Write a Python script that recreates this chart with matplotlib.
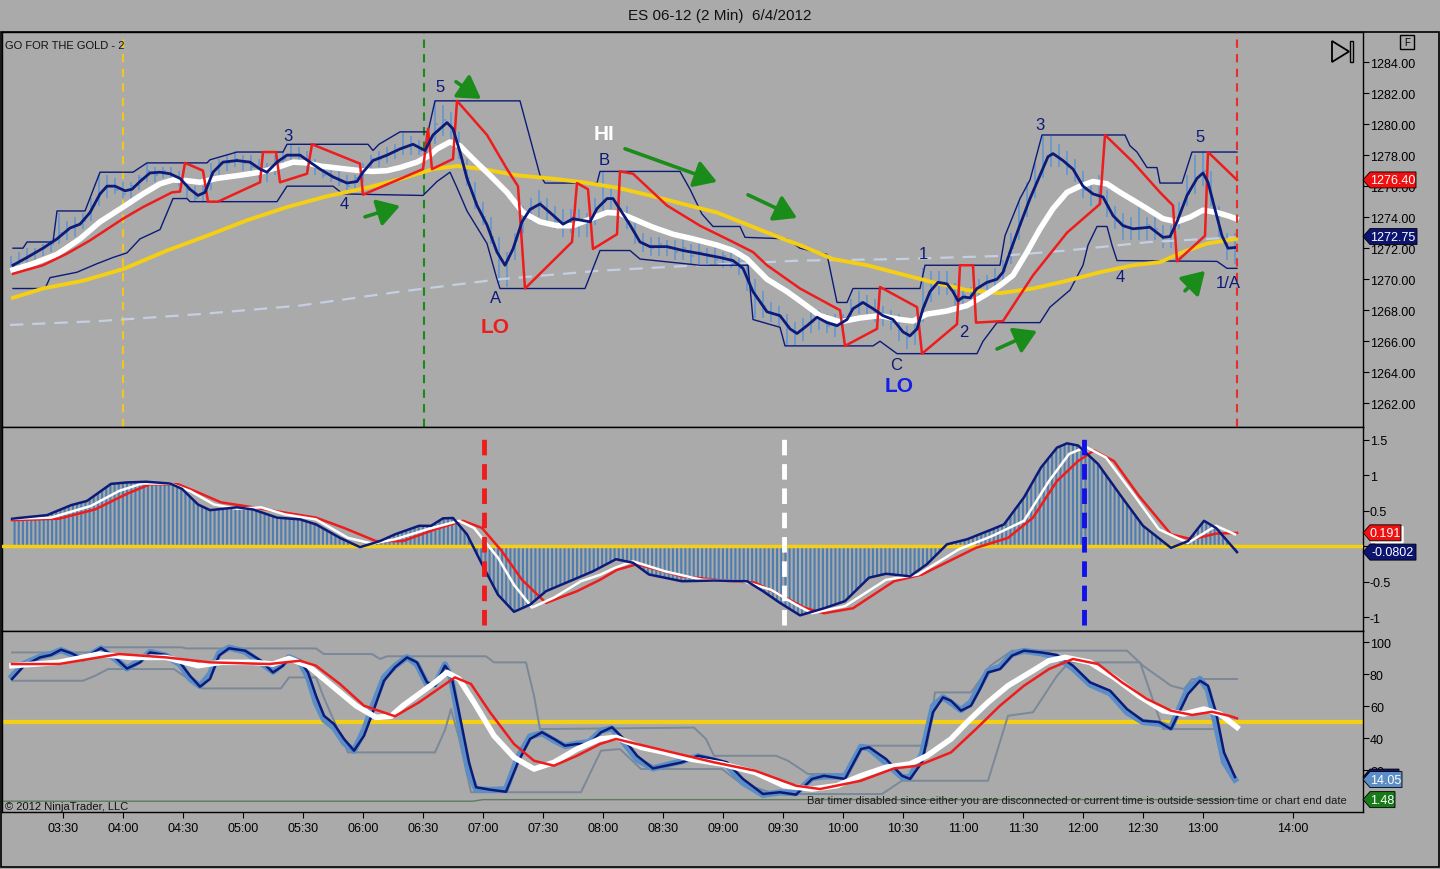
import numpy as np
import matplotlib.pyplot as plt
from matplotlib.patches import Polygon, Rectangle

plt.rcParams['font.family'] = ['Liberation Sans', 'DejaVu Sans']
plt.rcParams['hatch.linewidth'] = 1.5

W, H = 1440, 870
BG = '#aaaaaa'
NAVY = '#0c1a78'
RED = '#ee1c1c'
YEL = '#f5cf14'
BARC = '#6496d0'
LBLUE = '#5b8ec6'
GRAY = '#7a8898'
GREEN = '#1a8c1a'

# ---------------- data (time = minutes after 03:00) ----------------
tick_pos = [30, 60, 90, 120, 150, 180, 210, 240, 270, 300, 330, 360, 390, 420,
            450, 480, 510, 540, 570, 600, 645]
tick_lab = ['03:30', '04:00', '04:30', '05:00', '05:30', '06:00', '06:30', '07:00',
            '07:30', '08:00', '08:30', '09:00', '09:30', '10:00', '10:30', '11:00',
            '11:30', '12:00', '12:30', '13:00', '14:00']

# price bars, one every 4 minutes starting 03:04
bar_hi = [1271.5, 1271.75, 1272.0, 1272.0, 1272.25, 1272.5, 1274.25, 1273.75, 1274.0, 1274.25,
          1275.25, 1276.75, 1276.75, 1276.5, 1276.25, 1276.25, 1276.75, 1277.5, 1277.25, 1277.25,
          1277.25, 1277.0, 1276.5, 1276.0, 1276.0, 1277.5, 1277.75, 1278.0, 1278.25, 1278.0,
          1278.0, 1277.75, 1277.5, 1278.0, 1278.25, 1278.75, 1278.5, 1278.25, 1277.75, 1277.5,
          1277.25, 1277.0, 1276.75, 1276.75, 1277.5, 1278.0, 1278.25, 1278.5, 1278.75, 1279.5,
          1279.25, 1279.0, 1279.0, 1281.5, 1281.25, 1280.75, 1279.5, 1277.75, 1276.25, 1275.0,
          1274.0, 1272.75, 1271.75, 1273.0, 1274.75, 1275.25, 1275.75, 1275.25, 1274.75, 1274.5,
          1274.5, 1274.5, 1274.25, 1275.25, 1277.0, 1276.0, 1275.5, 1274.75, 1273.75, 1273.0,
          1272.75, 1272.75, 1272.5, 1272.5, 1272.5, 1272.25, 1272.25, 1272.0, 1272.0, 1271.75,
          1271.75, 1271.5, 1271.0, 1270.0, 1269.25, 1268.5, 1268.25, 1267.75, 1267.25, 1267.5,
          1268.0, 1268.0, 1267.75, 1267.75, 1267.75, 1268.75, 1269.25, 1269.0, 1268.75, 1268.25,
          1268.0, 1267.75, 1267.0, 1267.25, 1270.75, 1270.5, 1270.5, 1270.5, 1269.75, 1269.5,
          1269.5, 1270.0, 1270.25, 1270.75, 1271.25, 1273.0, 1275.0, 1276.25, 1277.5, 1279.25,
          1279.25, 1278.75, 1278.25, 1277.75, 1277.0, 1276.25, 1276.75, 1275.75, 1274.75, 1274.25,
          1274.0, 1275.0, 1274.0, 1274.0, 1273.5, 1273.5, 1275.0, 1276.75, 1278.0, 1278.25,
          1277.0, 1274.75, 1273.0, 1273.0]
bar_lo = [1270.5, 1270.75, 1271.0, 1271.25, 1271.5, 1271.75, 1272.25, 1272.5, 1272.75, 1273.25,
          1273.75, 1274.75, 1275.25, 1275.5, 1275.25, 1275.25, 1275.75, 1276.25, 1276.25, 1276.5,
          1276.25, 1276.0, 1275.25, 1275.0, 1275.0, 1275.75, 1276.75, 1277.0, 1277.25, 1277.0,
          1277.0, 1276.5, 1276.25, 1276.75, 1277.25, 1277.5, 1277.5, 1277.0, 1276.75, 1276.5,
          1276.25, 1276.0, 1275.5, 1275.75, 1276.25, 1277.0, 1277.25, 1277.5, 1277.75, 1278.0,
          1278.0, 1278.0, 1277.75, 1278.75, 1279.25, 1279.0, 1277.75, 1276.0, 1274.5, 1273.5,
          1272.25, 1269.75, 1269.5, 1271.25, 1273.0, 1273.75, 1274.0, 1273.75, 1273.25, 1272.75,
          1273.0, 1272.75, 1272.75, 1273.5, 1274.25, 1274.5, 1274.0, 1273.25, 1272.25, 1271.75,
          1271.5, 1271.5, 1271.5, 1271.25, 1271.25, 1271.0, 1271.0, 1271.0, 1271.0, 1270.75,
          1270.75, 1270.25, 1269.25, 1267.5, 1267.5, 1267.25, 1267.0, 1265.75, 1265.75, 1266.0,
          1266.5, 1266.75, 1266.5, 1266.25, 1266.5, 1267.25, 1267.75, 1267.75, 1267.25, 1267.0,
          1266.75, 1266.0, 1265.5, 1265.75, 1267.25, 1268.5, 1269.0, 1269.0, 1268.25, 1268.0,
          1268.25, 1268.75, 1269.25, 1269.25, 1269.75, 1271.0, 1272.5, 1274.0, 1275.25, 1276.5,
          1277.25, 1277.25, 1276.75, 1276.25, 1275.25, 1274.75, 1274.75, 1274.0, 1273.25, 1272.5,
          1272.5, 1272.5, 1272.5, 1272.5, 1272.0, 1272.0, 1273.25, 1274.75, 1275.5, 1276.0,
          1274.75, 1272.75, 1271.25, 1271.0]
bar_cl = [1271.0, 1271.25, 1271.5, 1271.75, 1272.0, 1272.25, 1273.0, 1273.25, 1273.5, 1273.75,
          1274.75, 1275.5, 1276.0, 1275.75, 1275.5, 1276.0, 1276.5, 1277.0, 1276.75, 1277.0,
          1276.75, 1276.25, 1275.75, 1275.25, 1275.75, 1276.75, 1277.5, 1277.5, 1277.75, 1277.5,
          1277.25, 1277.0, 1277.0, 1277.5, 1277.75, 1278.0, 1278.0, 1277.5, 1277.25, 1276.75,
          1276.5, 1276.25, 1276.0, 1276.5, 1277.0, 1277.75, 1277.75, 1278.0, 1278.25, 1278.5,
          1278.75, 1278.25, 1278.75, 1280.0, 1280.25, 1279.5, 1278.25, 1276.5, 1275.0, 1274.0,
          1272.75, 1271.25, 1271.25, 1272.5, 1274.0, 1274.5, 1275.0, 1274.25, 1273.75, 1273.5,
          1274.0, 1273.5, 1273.75, 1274.5, 1275.0, 1275.25, 1274.5, 1273.75, 1272.75, 1272.25,
          1272.0, 1272.25, 1272.0, 1271.75, 1272.0, 1271.5, 1271.75, 1271.5, 1271.25, 1271.5,
          1271.0, 1270.75, 1270.0, 1268.75, 1268.25, 1267.75, 1267.5, 1267.0, 1266.5, 1267.0,
          1267.25, 1267.5, 1267.0, 1267.0, 1267.5, 1268.0, 1268.5, 1268.25, 1267.75, 1267.5,
          1267.25, 1266.75, 1266.25, 1266.75, 1268.25, 1269.5, 1269.75, 1269.5, 1268.75, 1269.0,
          1268.75, 1269.5, 1269.75, 1270.0, 1270.5, 1272.0, 1273.5, 1275.0, 1276.25, 1277.5,
          1278.0, 1277.75, 1277.25, 1276.75, 1275.75, 1275.5, 1275.5, 1274.75, 1273.75, 1273.5,
          1273.25, 1273.25, 1273.5, 1273.25, 1272.75, 1273.0, 1274.25, 1275.5, 1276.5, 1277.0,
          1275.25, 1273.25, 1272.0, 1272.75]
bar_t = list(range(4, 4 + 4 * len(bar_hi), 4))

# price channel (upper / lower)
chu_t = [5, 10, 12, 25, 27, 41, 48.5, 65, 72, 102, 103.5, 117, 140, 142, 182.5, 185, 188,
         198.5, 212.5, 216, 258.5, 268.5, 271, 297, 298.5, 338.5, 343.5, 349.5, 355, 368.5,
         371, 392, 398.5, 405, 412, 417, 422, 425, 458.5, 461, 498.5, 501, 508.5, 513.5,
         519.5, 561, 563.5, 567, 572, 577, 578.5, 589.5, 594.5, 617]
chu_v = [1272.0, 1272.0, 1272.4, 1272.4, 1274.4, 1274.4, 1276.9, 1276.9, 1277.5, 1277.5,
         1277.7, 1278.2, 1278.2, 1278.7, 1278.7, 1278.3, 1278.7, 1279.5, 1279.5, 1281.5,
         1281.5, 1276.7, 1276.2, 1276.2, 1276.95, 1276.95, 1275.8, 1274.2, 1273.4, 1273.4,
         1272.7, 1272.6, 1272.0, 1271.8, 1271.6, 1268.5, 1268.5, 1269.4, 1269.4, 1270.9,
         1270.9, 1272.8, 1275.2, 1276.4, 1279.3, 1279.3, 1278.6, 1278.2, 1277.2, 1277.2,
         1276.2, 1276.2, 1278.2, 1278.2]
chl_t = [5, 21, 23.5, 37, 47, 55, 62, 68.5, 78.5, 85, 92, 93.5, 137, 142, 165, 170, 210,
         217, 223.5, 227, 232, 242, 247, 248.5, 291, 298.5, 313.5, 318.5, 348.5, 372.5, 375,
         388.5, 391, 435, 438.5, 447, 487, 490, 497, 518.5, 523.5, 533.5, 540, 542.5, 547,
         552, 554.5, 557, 607, 612, 617]
chl_v = [1269.4, 1269.4, 1270.1, 1270.45, 1271.0, 1271.4, 1271.7, 1272.6, 1273.2, 1275.2,
         1275.2, 1275.0, 1275.0, 1276.0, 1276.0, 1275.5, 1275.4, 1276.3, 1276.9, 1275.9,
         1274.4, 1272.3, 1270.0, 1269.4, 1269.4, 1271.85, 1271.85, 1271.3, 1270.9, 1270.9,
         1267.4, 1266.9, 1265.7, 1265.7, 1266.0, 1265.2, 1265.2, 1266.0, 1267.2, 1267.2,
         1268.2, 1269.3, 1270.9, 1272.2, 1273.4, 1273.4, 1272.2, 1271.2, 1271.15, 1270.7,
         1270.7]

# fast navy average
fast_t = [5, 12, 20, 27, 33.5, 38.5, 43.5, 48.5, 52, 56, 61, 64.5, 68.5, 73.5, 78.5, 83.5,
          88.5, 93.5, 97.5, 101, 105, 110, 117, 123.5, 128.5, 132, 137, 142, 148.5, 153.5,
          158.5, 165, 172, 177, 180, 185, 192, 198.5, 205, 211, 215, 222, 225, 228.5, 232,
          237, 242, 247, 251, 255, 259.5, 263.5, 268.5, 273.5, 280, 285, 293.5, 297, 302,
          305, 308.5, 313.5, 318.5, 323.5, 332, 340, 348.5, 358.5, 365, 370, 375, 382, 388.5,
          393.5, 397, 402, 407, 412, 417, 422, 425, 430, 435, 440, 445, 450, 453.5, 457, 460,
          463.5, 467.5, 472, 475, 477.5, 480, 483.5, 487, 492, 497, 500, 503.5, 508.5, 513.5,
          518.5, 522.5, 525, 530, 535, 540, 545, 550, 555, 560, 565, 573.5, 580, 583.5, 587,
          592, 597, 600, 602.5, 606, 609.5, 612.5, 616.5]
fast_v = [1270.9, 1271.4, 1272.0, 1272.6, 1273.3, 1273.55, 1274.3, 1275.5, 1276.0, 1276.0,
          1275.7, 1275.8, 1276.3, 1276.85, 1276.9, 1276.8, 1276.5, 1275.8, 1275.4, 1275.6,
          1276.9, 1277.55, 1277.65, 1277.55, 1277.1, 1276.9, 1277.55, 1278.0, 1278.0, 1277.55,
          1277.1, 1276.6, 1276.2, 1276.3, 1276.9, 1277.65, 1278.0, 1278.4, 1278.7, 1278.3,
          1279.3, 1280.1, 1279.7, 1278.2, 1276.5, 1274.75, 1273.5, 1271.75, 1270.9, 1271.95,
          1273.7, 1274.5, 1274.85, 1274.3, 1273.55, 1273.9, 1273.7, 1274.55, 1275.2, 1275.2,
          1274.5, 1273.5, 1272.4, 1272.1, 1272.1, 1271.85, 1271.65, 1271.4, 1271.2, 1270.7,
          1269.2, 1267.9, 1267.65, 1266.8, 1266.5, 1267.0, 1267.55, 1267.2, 1267.0, 1267.4,
          1268.1, 1268.5, 1268.1, 1267.65, 1267.4, 1266.6, 1266.35, 1266.8, 1268.1, 1269.2,
          1269.8, 1269.7, 1269.2, 1268.6, 1268.85, 1268.8, 1269.4, 1269.8, 1270.0, 1270.45,
          1271.75, 1273.5, 1275.2, 1276.7, 1277.9, 1278.1, 1277.65, 1277.1, 1276.0, 1275.5,
          1275.3, 1274.1, 1273.45, 1273.25, 1273.35, 1272.7, 1272.75, 1273.7, 1275.4, 1276.5,
          1276.85, 1276.25, 1274.5, 1272.8, 1272.0, 1272.05]

# white average
wht_t = [5, 15, 27, 38.5, 48.5, 60, 70, 78.5, 85, 92, 98.5, 107, 118.5, 128.5, 137, 145, 152,
         158.5, 168.5, 178.5, 185, 192, 198.5, 207, 213.5, 217, 223.5, 228.5, 235, 243.5, 252,
         260, 268.5, 277, 285, 292, 302, 308.5, 315, 325, 335, 345, 357, 365, 372, 382, 392,
         398.5, 408.5, 418.5, 428.5, 438.5, 448.5, 455, 462, 472, 482, 492, 498.5, 505, 512,
         518.5, 525, 532, 538.5, 545, 552, 558.5, 565, 572, 580, 587, 593.5, 600, 607, 613.5,
         616.5]
wht_v = [1270.6, 1271.0, 1271.6, 1272.6, 1273.7, 1274.65, 1275.5, 1276.15, 1276.4, 1276.35,
         1276.25, 1276.5, 1276.7, 1276.9, 1277.2, 1277.55, 1277.5, 1277.3, 1277.15, 1277.0,
         1276.95, 1277.0, 1277.2, 1277.55, 1278.0, 1278.4, 1278.85, 1278.6, 1277.75, 1276.7,
         1275.6, 1274.3, 1273.7, 1273.45, 1273.45, 1273.8, 1274.3, 1274.25, 1273.9, 1273.35,
         1272.9, 1272.6, 1272.2, 1271.85, 1271.3, 1270.0, 1269.2, 1268.6, 1267.65, 1267.25,
         1267.5, 1267.65, 1267.4, 1267.3, 1267.75, 1267.95, 1268.3, 1269.05, 1269.6, 1270.25,
         1271.75, 1273.25, 1274.55, 1275.6, 1276.0, 1276.3, 1276.15, 1275.6, 1275.1, 1274.55,
         1273.9, 1273.7, 1274.0, 1274.45, 1274.3, 1274.05, 1273.9]

# yellow average
yel_t = [5, 20, 40, 60, 82, 102, 122, 142, 162, 182, 198.5, 210, 215, 227, 240, 257, 273.5,
         290, 307, 323.5, 340, 357, 373.5, 390, 398.5, 415, 432, 448.5, 465, 482, 498.5, 515,
         532, 548.5, 565, 578.5, 590, 602, 616.5]
yel_v = [1268.8, 1269.4, 1269.9, 1270.65, 1271.85, 1272.8, 1273.8, 1274.65, 1275.35, 1275.9,
         1276.45, 1276.9, 1277.1, 1277.3, 1277.1, 1276.7, 1276.5, 1276.25, 1275.9, 1275.4,
         1274.85, 1274.3, 1273.45, 1272.6, 1272.2, 1271.3, 1270.9, 1270.35, 1269.8, 1269.3,
         1269.1, 1269.4, 1269.9, 1270.45, 1270.9, 1271.1, 1271.75, 1272.3, 1272.6]

# slow dashed average
slow_t = [3.5, 48.5, 98.5, 148.5, 198.5, 248.5, 298.5, 348.5, 398.5, 448.5, 498.5, 532,
          573.5, 616.5]
slow_v = [1267.05, 1267.3, 1267.75, 1268.3, 1269.2, 1270.0, 1270.55, 1270.9, 1271.2, 1271.3,
          1271.5, 1271.85, 1272.4, 1272.7]

# red trailing line
red_t = [5, 20, 32, 43.5, 60, 70, 84.5, 88.5, 91, 100, 102.5, 107.5, 128.5, 130, 136.5,
         138.5, 152, 154.5, 178.5, 180, 210, 212.5, 214.5, 225, 227, 242, 252, 257.5, 261,
         284.5, 287, 292.5, 295, 307, 308.5, 315, 332, 348.5, 365, 375, 382, 398.5, 418.5,
         421, 437, 438.5, 457, 459.5, 477, 478.5, 485, 486.5, 500, 515, 532, 548.5, 551, 565,
         578.5, 585, 587, 601, 602.5, 617]
red_v = [1270.35, 1270.9, 1271.65, 1272.5, 1273.9, 1274.65, 1275.6, 1275.65, 1277.5, 1277.0,
         1275.0, 1275.0, 1276.25, 1278.2, 1278.2, 1276.25, 1276.8, 1278.7, 1277.45, 1275.45,
         1277.1, 1279.7, 1277.1, 1277.75, 1281.5, 1279.3, 1277.1, 1276.0, 1269.4, 1272.4,
         1276.2, 1275.8, 1271.95, 1272.9, 1276.95, 1276.8, 1274.75, 1273.45, 1272.4, 1271.75,
         1270.9, 1269.4, 1268.0, 1265.7, 1266.8, 1269.5, 1268.2, 1265.2, 1267.1, 1270.9,
         1270.9, 1267.2, 1267.3, 1270.25, 1273.0, 1274.85, 1279.3, 1277.55, 1275.6, 1274.75,
         1271.15, 1272.8, 1278.2, 1276.4]

# MACD panel
macd_t = [4.5, 22, 34, 42, 54, 62, 71.5, 83.5, 89.5, 97.5, 103.5, 117, 125, 137, 148.5,
          156.5, 168.5, 178.5, 188.5, 196, 208, 214, 220, 225, 232, 239.5, 247.5, 255.5,
          263.5, 271.5, 285, 295, 306.5, 315, 323, 339.5, 355.5, 372, 380, 388.5, 398.5,
          410.5, 421, 433, 441.5, 453.5, 462, 472, 482, 494.5, 500.5, 510.5, 519, 527, 532,
          537.5, 547.5, 559.5, 570, 584, 592.5, 600.5, 606.5, 617]
macd_v = [0.39, 0.44, 0.58, 0.64, 0.88, 0.90, 0.91, 0.885, 0.81, 0.59, 0.51, 0.55, 0.52, 0.405,
          0.38, 0.31, 0.12, -0.01, 0.075, 0.17, 0.29, 0.29, 0.395, 0.40, 0.17, -0.25, -0.68,
          -0.92, -0.82, -0.63, -0.47, -0.35, -0.18, -0.23, -0.395, -0.49, -0.48, -0.49, -0.63,
          -0.795, -0.97, -0.87, -0.77, -0.44, -0.385, -0.42, -0.25, 0.03, 0.10, 0.24, 0.31,
          0.69, 1.11, 1.39, 1.45, 1.42, 1.16, 0.69, 0.29, -0.02, 0.075, 0.36, 0.26, -0.08]
msig_t = [4.5, 24, 44, 58, 69.5, 83.5, 93.5, 105.5, 117, 129, 141, 156.5, 172.5, 184.5, 196,
          212, 228, 235.5, 247.5, 255.5, 264.5, 275.5, 289, 298.5, 306, 315, 331, 349.5, 370,
          384, 396.5, 404.5, 421, 441.5, 457.5, 478, 494.5, 510.5, 523, 533, 541.5, 551.5,
          564, 578, 592.5, 606.5, 616]
msig_v = [0.39, 0.405, 0.57, 0.78, 0.885, 0.885, 0.78, 0.59, 0.53, 0.55, 0.45, 0.38, 0.12,
          0.04, 0.10, 0.24, 0.36, 0.26, -0.16, -0.54, -0.86, -0.72, -0.49, -0.40, -0.30,
          -0.21, -0.35, -0.47, -0.49, -0.61, -0.82, -0.94, -0.84, -0.47, -0.395, -0.04,
          0.145, 0.36, 0.92, 1.30, 1.40, 1.25, 0.78, 0.24, 0.05, 0.29, 0.17]
mavg_t = [4.5, 28, 46, 62, 73.5, 87.5, 97.5, 109, 125, 141, 156.5, 170.5, 186.5, 200, 216,
          230, 239.5, 249.5, 259.5, 271.5, 287, 298.5, 307, 317, 339.5, 359.5, 376, 388.5,
          400.5, 410.5, 425, 445.5, 459.5, 486.5, 502.5, 515, 527, 537.5, 545.5, 555.5, 568,
          584, 594.5, 606.5, 617]
mavg_v = [0.37, 0.39, 0.52, 0.74, 0.875, 0.875, 0.76, 0.62, 0.55, 0.475, 0.405, 0.26, 0.075,
          0.075, 0.24, 0.36, 0.26, -0.07, -0.47, -0.795, -0.63, -0.47, -0.33, -0.25, -0.42,
          -0.48, -0.51, -0.68, -0.86, -0.94, -0.87, -0.49, -0.395, -0.02, 0.12, 0.405, 0.92,
          1.20, 1.35, 1.20, 0.71, 0.17, 0.10, 0.18, 0.19]

# stochastic panel
stk_t = [4.5, 10.5, 18.5, 24, 29, 34, 40, 49, 56, 62, 68.5, 73.5, 81.5, 88.5, 93.5, 98.5,
         103.5, 108, 113, 121, 129, 135, 140, 143, 148.5, 152.5, 156.5, 160.5, 165.5, 170.5,
         175.5, 180.5, 185.5, 190.5, 196, 202, 207, 212, 216, 221, 224, 228, 233, 236.5,
         243.5, 251.5, 257.5, 263.5, 269.5, 275.5, 281, 287, 293, 299, 304.5, 310.5, 317,
         325, 333, 339.5, 347.5, 355.5, 362, 370, 380, 388.5, 396.5, 404.5, 410.5, 421, 429,
         433, 441.5, 449.5, 453.5, 459.5, 465, 470, 474, 479, 484, 488.5, 492.5, 498.5,
         504.5, 510.5, 519, 527, 535, 543.5, 553.5, 562, 570, 578, 584, 592.5, 598.5, 602.5,
         606.5, 610.5, 616]
stk_v = [76.9, 85.2, 90.4, 91.9, 95.2, 93.1, 89.4, 96.25, 90.4, 83.4, 87.3, 93.5, 91.9, 87.3,
         78.9, 72.1, 76.9, 91.5, 96.1, 94.6, 88.3, 81.0, 85.2, 90.4, 88.3, 81.0, 66.4, 53.9,
         48.75, 39.4, 32.1, 41.4, 58.1, 75.8, 84.2, 90.4, 87.3, 74.8, 72.7, 85.2, 80.0, 56.1,
         24.8, 9.2, 7.7, 6.4, 24.8, 39.4, 43.6, 39.4, 35.2, 36.25, 36.25, 43.6, 46.7, 39.4,
         28.9, 21.0, 23.1, 24.8, 28.9, 26.9, 24.8, 14.4, 5.0, 6.1, 4.6, 14.4, 16.4, 14.4,
         33.1, 34.2, 26.9, 16.4, 14.4, 24.8, 56.1, 65.4, 63.3, 57.1, 60.2, 70.6, 81.0, 83.1,
         91.5, 94.6, 93.5, 91.9, 85.2, 74.8, 69.6, 58.1, 50.8, 50.0, 45.6, 67.5, 75.8, 72.7,
         56.1, 31.0, 15.6]
stkr_v = [78.5, 86.5, 90.8, 92.5, 95.0, 92.5, 89.6, 96.0, 89.5, 83.5, 88.5, 93.8, 91.5, 86.0,
          77.0, 72.5, 80.0, 93.0, 96.5, 94.0, 87.0, 81.5, 86.5, 90.5, 87.5, 78.0, 62.0, 51.5,
          46.5, 37.0, 32.0, 45.0, 62.0, 78.0, 85.0, 90.5, 86.0, 73.5, 73.5, 86.0, 78.0, 50.0,
          18.0, 8.0, 7.5, 8.0, 28.0, 41.0, 43.0, 38.5, 35.0, 36.5, 37.5, 44.5, 46.0, 37.0,
          26.5, 21.0, 23.5, 25.5, 28.5, 26.0, 23.0, 12.0, 4.5, 6.0, 5.5, 15.0, 16.0, 16.0,
          34.5, 33.5, 24.5, 15.5, 15.5, 30.0, 60.0, 65.5, 62.0, 57.5, 62.5, 73.0, 82.0, 84.5,
          92.5, 94.5, 93.0, 90.5, 83.5, 73.5, 68.0, 56.0, 50.0, 49.0, 46.5, 71.0, 77.0, 70.0,
          48.0, 25.0, 14.05]
swht_t = [4.5, 28, 48, 63.5, 81.5, 97.5, 109, 125, 135, 143, 152.5, 164.5, 176.5, 186.5, 194,
          200, 208, 216, 222, 228, 235.5, 245.5, 255.5, 265.5, 275.5, 287, 298.5, 306.5, 319,
          331, 343.5, 359.5, 376, 390.5, 404.5, 417, 429, 441.5, 453.5, 462, 474, 482, 492.5,
          502.5, 515, 523, 531, 543.5, 555.5, 568, 580, 590.5, 600.5, 608.5, 617]
swht_v = [85.2, 87.3, 92.5, 90.4, 90.4, 85.2, 87.3, 87.3, 86.25, 89.7, 85.2, 72.7, 60.2, 52.9,
          53.6, 60.2, 67.5, 74.8, 81.0, 76.9, 62.3, 41.4, 27.9, 20.6, 24.8, 33.1, 39.4, 40.4,
          34.2, 31.0, 26.9, 23.75, 18.5, 10.2, 8.1, 10.2, 16.4, 21.7, 23.75, 28.9, 39.4, 49.8,
          62.3, 72.7, 82.1, 88.3, 90.4, 87.3, 77.9, 66.4, 57.1, 55.0, 58.1, 55.0, 46.7]
sred_t = [4.5, 28, 58, 81.5, 103.5, 133, 148.5, 156.5, 168.5, 180.5, 196, 208, 220, 226, 234,
          243.5, 255.5, 265.5, 275.5, 287, 298.5, 306.5, 331, 355.5, 376, 396.5, 408.5, 429,
          445.5, 457.5, 474, 486.5, 498.5, 510.5, 523, 535, 547.5, 559.5, 572, 584, 594.5,
          604.5, 613, 617]
sred_v = [86.25, 86.25, 92.5, 90.4, 87.3, 86.25, 88.3, 85.2, 73.75, 60.2, 53.6, 62.3, 72.7,
          77.9, 73.75, 56.1, 36.25, 25.8, 22.7, 28.9, 36.25, 39.4, 32.1, 24.8, 19.6, 10.2, 8.1,
          13.3, 21.0, 22.7, 31.0, 45.6, 60.2, 72.7, 83.1, 89.4, 86.25, 74.8, 64.4, 57.1, 54.4,
          56.4, 53.9, 52.3]
sup_t = [4.5, 44, 48, 89.5, 91.5, 156.5, 160.5, 184.5, 188.5, 192, 241.5, 245.5, 261.5, 265.5,
         268.5, 345.5, 351.5, 355.5, 386.5, 392.5, 402.5, 421, 429, 462, 466, 484, 493.5,
         504.5, 562, 570, 584, 590.5, 594.5, 617]
sup_v = [93.5, 93.5, 96.7, 96.7, 96.0, 96.0, 92.5, 92.5, 89.4, 91.1, 91.1, 87.3, 87.3, 66.4,
         45.6, 46.5, 39.4, 28.9, 28.9, 25.8, 17.5, 17.5, 35.2, 35.2, 68.5, 68.5, 85.0, 94.6,
         94.6, 85.2, 72.7, 70.6, 76.9, 76.9]
slo_t = [4.5, 40, 46, 52.5, 85.5, 99.5, 139, 143, 156.5, 160.5, 172.5, 216, 221, 224, 228,
         234, 289, 299, 308.5, 319, 359.5, 368.5, 386.5, 439.5, 449.5, 492.5, 502.5, 515, 527,
         533, 568.5, 580, 606.5]
slo_v = [75.8, 75.8, 78.9, 83.1, 83.1, 71.0, 71.0, 77.9, 77.9, 65.0, 31.0, 31.0, 45.0, 58.1,
         40.0, 6.1, 6.1, 32.1, 33.1, 20.6, 20.6, 12.0, 5.0, 5.0, 13.3, 13.3, 53.9, 56.1, 78.9,
         87.3, 87.3, 45.6, 45.6]
sgrn_t = [0, 235, 240, 617]
sgrn_v = [0.5, 0.5, 1.48, 1.48]

# ---------------- figure ----------------
fig = plt.figure(figsize=(W / 100, H / 100), dpi=100, facecolor=BG)
L, R = 2, 1363
ax1 = fig.add_axes([L / W, 1 - 428 / H, (R - L) / W, 395 / H])
ax2 = fig.add_axes([L / W, 1 - 632 / H, (R - L) / W, 204 / H], sharex=ax1)
ax3 = fig.add_axes([L / W, 1 - 813 / H, (R - L) / W, 181 / H], sharex=ax1)

for ax in (ax1, ax2, ax3):
    ax.set_facecolor(BG)
    for s in ax.spines.values():
        s.set_color('black')
        s.set_linewidth(1)
    ax.yaxis.tick_right()
    ax.tick_params(axis='y', direction='out', length=4, width=0.8, labelsize=9,
                   colors='black', pad=1)
    ax.tick_params(axis='x', length=0, labelbottom=False)

ax1.set_xlim(-0.5, 680)

# ---- price panel ----
ax1.set_ylim(1260.47, 1285.94)
ax1.set_yticks(np.arange(1262, 1285, 2))
ax1.set_yticklabels(['%.2f' % v for v in np.arange(1262, 1285, 2)])

ax1.vlines(bar_t, bar_lo, bar_hi, color=BARC, lw=1.2, zorder=2)
ax1.hlines(bar_cl, bar_t, [t + 1.6 for t in bar_t], color=BARC, lw=1.2, zorder=2)
ax1.plot(slow_t, slow_v, color='#c4cfe2', lw=1.6, dashes=(6, 4), zorder=2)
ax1.plot(chu_t, chu_v, color=NAVY, lw=1.0, zorder=3)
ax1.plot(chl_t, chl_v, color=NAVY, lw=1.0, zorder=3)
ax1.plot(yel_t, yel_v, color=YEL, lw=2.8, zorder=3)
ax1.plot(wht_t, wht_v, color='white', lw=4, zorder=4)
ax1.plot(red_t, red_v, color=RED, lw=1.8, zorder=5)
ax1.plot(fast_t, fast_v, color=NAVY, lw=2.0, zorder=6)

ax1.axvline(60, color='#f2c61c', lw=1.5, dashes=(4, 3), zorder=1)
ax1.axvline(210.5, color='#178a17', lw=1.5, dashes=(4, 3), zorder=1)
ax1.axvline(617, color='#e8302a', lw=1.5, dashes=(4, 3), zorder=7)

ax1.text(1, 1285.1, 'GO FOR THE GOLD - 2', fontsize=8, color='#111111', va='center')

lab = dict(color=NAVY, fontsize=12, ha='center', va='center', zorder=8)
for s, t, p in [('5', 218.5, 1282.41), ('3', 142.5, 1279.25), ('4', 170.5, 1274.86),
                ('B', 300.5, 1277.7), ('A', 246.5, 1268.8), ('1', 460, 1271.63),
                ('C', 446.5, 1264.47), ('2', 480.5, 1266.66), ('3', 518.5, 1279.95),
                ('4', 558.5, 1270.15), ('5', 598.5, 1279.18), ('1/A', 612.5, 1269.76)]:
    ax1.text(t, p, s, **lab)
ax1.text(300.5, 1279.37, 'HI', color='white', fontsize=15, fontweight='bold',
         ha='center', va='center', zorder=8)
ax1.text(246, 1266.92, 'LO', color=RED, fontsize=15, fontweight='bold',
         ha='center', va='center', zorder=8)
ax1.text(448, 1263.12, 'LO', color='#1420e6', fontsize=15, fontweight='bold',
         ha='center', va='center', zorder=8)

for (t0, p0, t1, p1) in [(226.5, 1282.73, 239, 1281.63), (181, 1274.02, 198.5, 1274.73),
                         (311, 1278.41, 357, 1276.28), (372.5, 1275.44, 397, 1273.95),
                         (497, 1265.5, 517, 1266.66), (591, 1269.25, 601, 1270.54)]:
    ax1.annotate('', xy=(t1, p1), xytext=(t0, p0), zorder=8,
                 arrowprops=dict(arrowstyle='-|>,head_length=0.9,head_width=0.55',
                                 color=GREEN, lw=2.6, mutation_scale=15,
                                 shrinkA=0, shrinkB=0))

# ---- MACD panel ----
ax2.set_ylim(-1.19, 1.68)
ax2.set_yticks([-1, -0.5, 0, 0.5, 1, 1.5])
ax2.set_yticklabels(['-1', '-0.5', '0', '0.5', '1', '1.5'])
ax2.fill_between(macd_t, 0, macd_v, facecolor='none', edgecolor='#4d7db0',
                 hatch='||||', lw=0, zorder=2)
ax2.axhline(0, color=YEL, lw=2.5, zorder=3)
ax2.plot(mavg_t, mavg_v, color=RED, lw=1.8, zorder=4)
ax2.plot(msig_t, msig_v, color='white', lw=1.8, zorder=5)
ax2.plot(macd_t, macd_v, color=NAVY, lw=1.8, zorder=6)
for t, c in [(240.5, '#ee1c1c'), (390.5, 'white'), (540.5, '#1010e8')]:
    ax2.axvline(t, ymin=0.03, ymax=0.97, color=c, lw=3.5, dashes=(3.2, 1.8), zorder=7)

# ---- stochastic panel ----
ax3.set_ylim(-6.25, 106.9)
ax3.set_yticks([20, 40, 60, 80, 100])
ax3.set_xticks(tick_pos)
ax3.set_xticklabels(tick_lab)
ax3.tick_params(axis='x', length=4, width=0.8, labelbottom=True, labelsize=9,
                direction='out', pad=3)
ax3.axhline(50, color=YEL, lw=3, zorder=2)
ax3.plot(sgrn_t, sgrn_v, color='#5e7d5e', lw=1.0, zorder=2)
ax3.plot(sup_t, sup_v, color=GRAY, lw=1.4, zorder=3)
ax3.plot(slo_t, slo_v, color=GRAY, lw=1.4, zorder=3)
ax3.plot(stk_t, stkr_v, color=LBLUE, lw=4.5, zorder=4)
ax3.plot(stk_t, stk_v, color=NAVY, lw=1.8, zorder=5)
ax3.plot(swht_t, swht_v, color='white', lw=4, zorder=6)
ax3.plot(sred_t, sred_v, color=RED, lw=1.8, zorder=7)
ax3.text(1, -2.5, '\u00a9 2012 NinjaTrader, LLC', fontsize=8, color='#111111',
         va='center', ha='left')
ax3.text(672, 1.5, 'Bar timer disabled since either you are disconnected or current '
         'time is outside session time or chart end date', fontsize=8, color='#1a1a1a',
         va='center', ha='right', zorder=8)

# ---------------- figure decorations ----------------
fig.text(0.5, 1 - 16 / H, 'ES 06-12 (2 Min)  6/4/2012', ha='center', va='center',
         fontsize=11, color='#111111')
fig.patches.append(Rectangle((1 / W, 2 / H), 1438 / W, 835 / H, transform=fig.transFigure,
                             fill=False, edgecolor='black', lw=1.2))
# end-of-chart icon and F box
fig.patches.append(Polygon([(1332 / W, 1 - 42 / H), (1332 / W, 1 - 63 / H),
                            (1349 / W, 1 - 52.5 / H)], closed=True, fill=False,
                           edgecolor='black', lw=1.3, transform=fig.transFigure))
fig.patches.append(Rectangle((1350 / W, 1 - 63 / H), 3 / W, 21 / H, fill=False,
                             edgecolor='black', lw=1.0, transform=fig.transFigure))
fig.patches.append(Rectangle((1400 / W, 1 - 50 / H), 14 / W, 14 / H, fill=False,
                             edgecolor='black', lw=1.0, transform=fig.transFigure))
fig.text(1407 / W, 1 - 43 / H, 'F', fontsize=7, ha='center', va='center')


def tag(ax, value, text, color, width, outline=False):
    b = ax.get_position()
    y0, y1 = ax.get_ylim()
    yp = (b.y0 + (value - y0) / (y1 - y0) * b.height) * H
    xp = b.x1 * W
    hh = 8
    pts = [(xp, yp), (xp + 7, yp + hh), (xp + width, yp + hh),
           (xp + width, yp - hh), (xp + 7, yp - hh)]
    if outline:
        sh = [(x + 2, y - 2) for x, y in pts]
        fig.patches.append(Polygon([(x / W, y / H) for x, y in sh], closed=True,
                                   facecolor='white', edgecolor='white',
                                   transform=fig.transFigure, zorder=5))
    fig.patches.append(Polygon([(x / W, y / H) for x, y in pts], closed=True,
                               facecolor=color, edgecolor='black', lw=0.6,
                               transform=fig.transFigure, zorder=6))
    if text:
        fig.text((xp + 6 + (width - 6) / 2) / W, yp / H, text, color='white', fontsize=9,
                 ha='center', va='center', zorder=7)


tag(ax1, 1276.40, '1276.40', '#f01010', 53)
tag(ax1, 1272.75, '1272.75', '#0c1470', 54)
tag(ax2, 0.191, '0.191', '#f01010', 38, outline=True)
tag(ax2, -0.0802, '-0.0802', '#0c1470', 53)
tag(ax3, 15.6, '', '#0c1470', 36)
tag(ax3, 14.05, '14.05', LBLUE, 39)
tag(ax3, 1.48, '1.48', '#187a18', 32)

fig.savefig('out.png', dpi=100, facecolor=BG)
